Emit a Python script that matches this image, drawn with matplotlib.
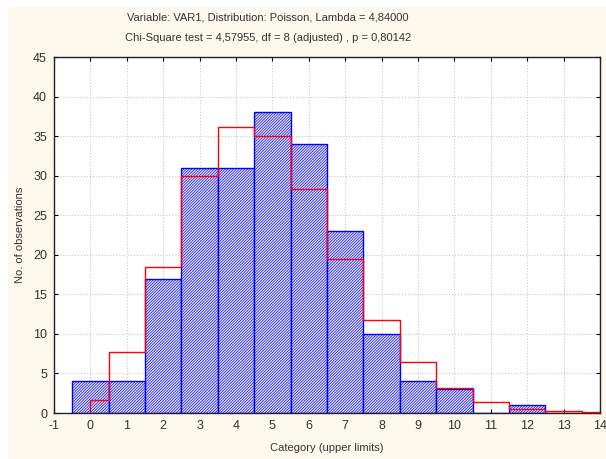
#!/usr/bin/env python3
import numpy as np
import matplotlib
matplotlib.use("Agg")
import matplotlib.pyplot as plt
from matplotlib.patches import Rectangle

# observed counts per category
categories = [0, 1, 2, 3, 4, 5, 6, 7, 8, 9, 10, 11, 12, 13]
counts = [4, 4, 17, 31, 31, 38, 34, 23, 10, 4, 3, 0, 1, 0]

# expected (fitted) counts
expected_edges = [0, 0.5, 1.5, 2.5, 3.5, 4.5, 5.5, 6.5, 7.5, 8.5, 9.5, 10.5, 11.5, 12.5, 13.5, 14]
expected = [1.6, 7.7, 18.5, 29.9, 36.2, 35.0, 28.3, 19.5, 11.8, 6.4, 3.1, 1.35, 0.55, 0.2, 0.07]

title1 = "Variable: VAR1, Distribution: Poisson, Lambda = 4,84000"
title2 = "Chi-Square test = 4,57955, df = 8 (adjusted) , p = 0,80142"

plt.rcParams['font.family'] = ['Liberation Sans', 'DejaVu Sans']
plt.rcParams['axes.unicode_minus'] = False
plt.rcParams['hatch.linewidth'] = 0.5
plt.rcParams['hatch.color'] = '#4a4aff'

W, H = 606, 459
fig = plt.figure(figsize=(W / 100, H / 100), dpi=100)
fig.patch.set_facecolor('white')
fig.add_artist(Rectangle((8 / W, 0), 1, (H - 7) / H, transform=fig.transFigure,
                         facecolor='#fdf8ec', edgecolor='none', zorder=-10))

ax = fig.add_axes([54 / W, (H - 413) / H, (600 - 54) / W, (413 - 57) / H])
ax.set_facecolor('white')

ax.bar(categories, counts, width=1.0, facecolor='#ececff', edgecolor='#0000ff',
       hatch='/' * 12, linewidth=1.0, zorder=2)
ax.stairs(expected, expected_edges, color='#ff0000', linewidth=1.0, zorder=3)

ax.set_xlim(-1, 14)
ax.set_ylim(0, 45)
ax.set_xticks(range(-1, 15))
ax.set_yticks(range(0, 46, 5))
ax.grid(True, color='#c8c8c8', linestyle=':', linewidth=0.8, zorder=0)
ax.set_axisbelow(True)
ax.tick_params(direction='in', length=3, top=True, right=True, labelsize=9,
               labelcolor='#333333', pad=5)
for s in ax.spines.values():
    s.set_linewidth(1.0)
    s.set_color('#222222')

ax.set_xlabel("Category (upper limits)", fontsize=8, color='#333333', labelpad=8)
ax.set_ylabel("No. of observations", fontsize=8, color='#333333', labelpad=6)

fig.text(268 / W, 1 - 18 / H, title1, ha='center', va='center', fontsize=8, color='#333333')
fig.text(268 / W, 1 - 38 / H, title2, ha='center', va='center', fontsize=8, color='#333333')

fig.savefig("out.png", dpi=100, facecolor=fig.get_facecolor())
